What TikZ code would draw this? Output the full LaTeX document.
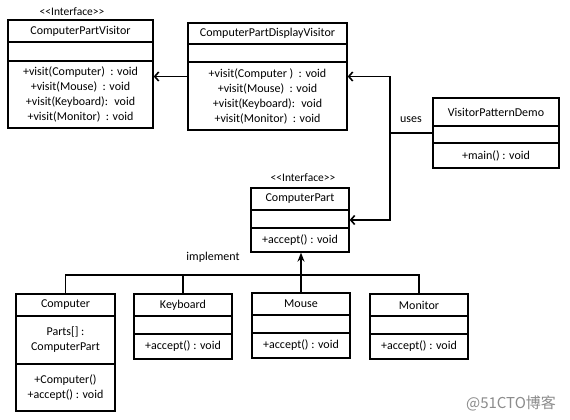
\documentclass[tikz,border=0pt]{standalone}
\usepackage{fontspec}
\setmainfont{Carlito}
\newfontfamily\cjk{Noto Sans CJK SC}
\usetikzlibrary{fit,arrows.meta}
\tikzset{
  umlbox/.style={draw, line width=1.3pt, inner sep=0pt},
  divider/.style={line width=1.3pt},
  lbl/.style={inner sep=0pt, align=center},
  stereo/.style={inner sep=0pt, font=\fontsize{11.5}{12}\selectfont},
  conn/.style={line width=1.6pt},
  usesarrow/.style={conn, -{Straight Barb[length=4pt,width=9pt]}},
  implarrow/.style={conn, -{Stealth[length=9pt,width=7pt]}},
}
% name, x1, y1, x2, y2, divider1, divider2, title
\newcommand\umlclass[8]{%
  \node[umlbox, fit={(#2,#3)(#4,#5)}] (#1) {};
  \draw[divider] (#2,#6) -- (#4,#6);
  \draw[divider] (#2,#7) -- (#4,#7);
  \node[lbl] (#1-t) at ({(#2+#4)/2},{(#3+#6)/2}) {#8};
  \coordinate (#1-a) at ({(#2+#4)/2},{(#6+#7)/2});
  \coordinate (#1-m) at ({(#2+#4)/2},{(#7+#5)/2});
}
\begin{document}
\begin{tikzpicture}[x=1pt,y=-1pt,font=\fontsize{12}{15}\selectfont]
\useasboundingbox[fill=white] (0,0) rectangle (570,420);

% classes
\umlclass{cpv}{8}{20}{153}{128}{42}{61}{ComputerPartVisitor}
\node[lbl] (cpv-mt) at (cpv-m) {+visit(Computer)~ : void\\+visit(Mouse)~ : void\\+visit(Keyboard):~ void\\+visit(Monitor)~ : void};
\node[stereo] (cpv-s) at (72,12) {{<}{<}Interface{>}{>}};

\umlclass{cpdv}{188}{23}{347}{130}{44}{62}{ComputerPartDisplayVisitor}
\node[lbl] (cpdv-mt) at (cpdv-m) {+visit(Computer )~ : void\\+visit(Mouse)~ : void\\+visit(Keyboard):~ void\\+visit(Monitor)~ : void};

\umlclass{vpd}{433}{98}{559}{168}{126}{143}{VisitorPatternDemo}
\node[lbl] (vpd-mt) at (vpd-m) {+main() : void};

\umlclass{cp}{251}{188}{349}{252}{210}{228}{ComputerPart}
\node[lbl] (cp-mt) at (cp-m) {+accept() : void};
\node[stereo] (cp-s) at (303,178) {{<}{<}Interface{>}{>}};

\umlclass{computer}{16}{294}{115}{411}{316}{364}{Computer}
\node[lbl] (computer-at) at (computer-a) {Parts[] :\\ComputerPart};
\node[lbl] (computer-mt) at (computer-m) {+Computer()\\+accept() : void};

\umlclass{keyboard}{134}{294}{232}{359}{316}{334}{Keyboard}
\node[lbl] (keyboard-mt) at (keyboard-m) {+accept() : void};

\umlclass{mouse}{252}{293}{350}{358}{315}{333}{Mouse}
\node[lbl] (mouse-mt) at (mouse-m) {+accept() : void};

\umlclass{monitor}{370}{294}{468}{359}{316}{334}{Monitor}
\node[lbl] (monitor-mt) at (monitor-m) {+accept() : void};

% connectors
\draw[usesarrow] (cpdv.west) -- (cpdv.west -| cpv.east);

\coordinate (usesx) at (390,0);
\coordinate (usesj) at (vpd.west -| usesx);
\draw[usesarrow] (vpd.west) -- (usesj) |- (cpdv.east);
\draw[usesarrow] (usesj) |- (cp.east);
\node[lbl] (uses) at (411,120) {uses};

\coordinate (bus) at (0,275);
\draw[conn] (computer.north) -- (computer.north |- bus) -- (monitor.north |- bus) -- (monitor.north);
\draw[conn] (keyboard.north) -- (keyboard.north |- bus);
\draw[implarrow] (mouse.north) -- (mouse.north |- cp.south);
\node[lbl] (impl) at (213,257) {implement};

% watermark
\node[inner sep=0pt, text=black!45] (wm) at (511,403) {\cjk\fontsize{15}{15}\selectfont @51CTO博客};
\end{tikzpicture}
\end{document}
